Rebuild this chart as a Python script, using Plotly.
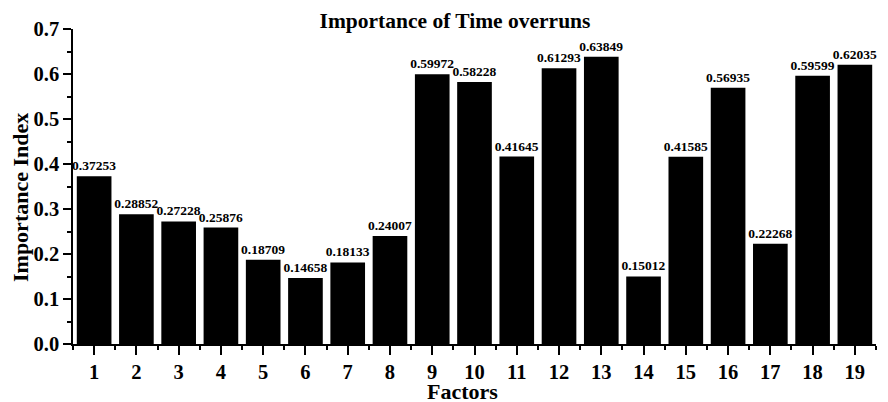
import plotly.graph_objects as go

factors = [str(i) for i in range(1, 20)]
values = [0.37253, 0.28852, 0.27228, 0.25876, 0.18709, 0.14658, 0.18133, 0.24007,
          0.59972, 0.58228, 0.41645, 0.61293, 0.63849, 0.15012, 0.41585, 0.56935,
          0.22268, 0.59599, 0.62035]
labels = [f"{v:.5f}" for v in values]

font = "Liberation Serif"

# The page body adds an 8px offset; the figure is sized so the plot lands where the reference has it.
W, H = 880, 394
L, R, T, B = 65, 12, 21, 58
pw, ph = W - L - R, H - T - B

fig = go.Figure(go.Bar(
    x=list(range(1, 20)), y=values, text=labels, textposition="outside",
    constraintext="none",
    textfont=dict(family=font, size=13.5, color="black", weight="bold"),
    marker=dict(color="black", line=dict(width=0)), width=0.82, cliponaxis=False,
))

fig.update_layout(
    width=W, height=H, plot_bgcolor="white", paper_bgcolor="white",
    margin=dict(l=L, r=R, t=T, b=B, autoexpand=False),
    showlegend=False,
    title=dict(text="<b>Importance of Time overruns</b>", x=447 / W, xanchor="center",
               xref="container", y=1 - 12 / H, yref="container", yanchor="middle",
               font=dict(family=font, size=21.5, color="black")),
    font=dict(family=font, color="black"),
    annotations=[
        dict(text="<b>Factors</b>", xref="paper", yref="paper",
             x=(454 - L) / pw, y=(ph + T - 384) / ph, xanchor="center", yanchor="middle",
             showarrow=False, font=dict(family=font, size=22, color="black")),
        dict(text="<b>Importance Index</b>", xref="paper", yref="paper",
             x=(12 - L) / pw, y=(ph + T - 190) / ph, xanchor="center", yanchor="middle",
             textangle=-90, showarrow=False, font=dict(family=font, size=22, color="black")),
    ],
)
fig.update_xaxes(
    range=[0.5, 19.5], tickmode="array", tickvals=list(range(1, 20)), ticktext=factors,
    showline=True, linecolor="black", linewidth=1.5, ticks="outside", ticklen=9,
    tickwidth=1.5, tickcolor="black", showgrid=False, zeroline=False, automargin=False,
    tickfont=dict(family=font, size=20.5, color="black", weight="bold"),
    minor=dict(tickmode="linear", tick0=0.5, dtick=1, ticks="outside", ticklen=4,
               tickwidth=1.5, tickcolor="black", showgrid=False),
)
fig.update_yaxes(
    range=[0, 0.7], tickmode="linear", tick0=0, dtick=0.1, tickformat=".1f",
    showline=True, linecolor="black", linewidth=1.5, ticks="outside", ticklen=8,
    tickwidth=1.5, tickcolor="black", showgrid=False, zeroline=False, automargin=False,
    tickfont=dict(family=font, size=20.5, color="black", weight="bold"),
    minor=dict(tickmode="linear", tick0=0, dtick=0.05, ticks="outside", ticklen=4,
               tickwidth=1.5, tickcolor="black", showgrid=False),
)

fig.write_html("out.html")
